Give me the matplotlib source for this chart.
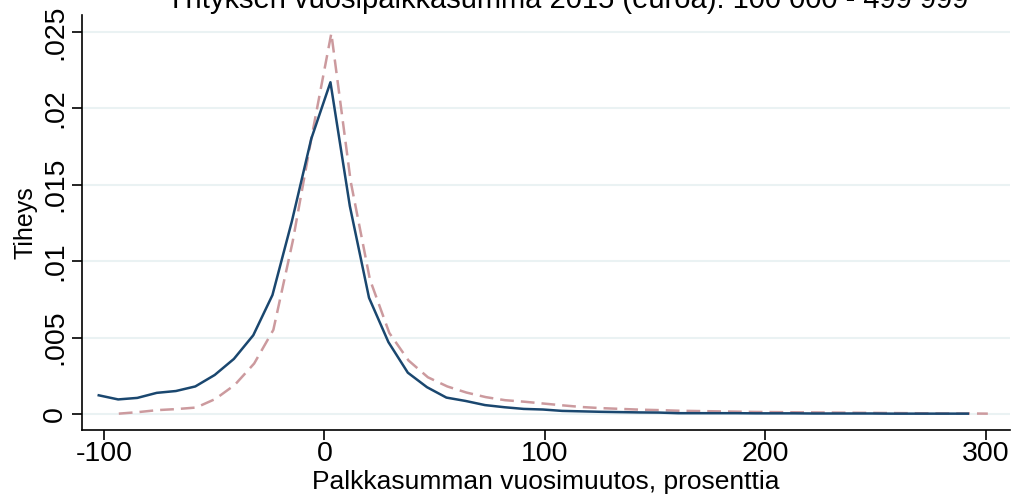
import matplotlib.pyplot as plt

plt.rcParams['font.family'] = ['Liberation Sans', 'DejaVu Sans']
plt.rcParams['axes.unicode_minus'] = False

title = 'Yrityksen vuosipalkkasumma 2015 (euroa): 100 000 - 499 999'

# solid navy curve
blue_x = [-102.4, -93.6, -84.9, -76.1, -67.4, -58.6, -49.8, -41.1, -32.3, -23.6,
          -14.8, -6.0, 2.7, 11.5, 20.2, 29.0, 37.8, 46.5, 55.3, 64.0,
          72.8, 81.6, 90.3, 99.1, 107.8, 116.6, 125.4, 134.1, 142.9, 151.6,
          160.4, 169.2, 177.9, 186.7, 195.4, 204.2, 213.0, 221.7, 230.5, 239.2,
          248.0, 256.8, 265.5, 274.3, 283.0, 291.8]
blue_y = [0.00122, 0.00095, 0.00105, 0.00138, 0.00150, 0.00180, 0.00255, 0.00360, 0.00515, 0.00778,
          0.0126, 0.0180, 0.0217, 0.0136, 0.0076, 0.0047, 0.0027, 0.00175, 0.00107, 0.00085,
          0.00058, 0.00044, 0.00033, 0.00029, 0.00020, 0.00017, 0.00014, 0.00012, 0.00010, 0.00009,
          0.00005, 0.00005, 0.00005, 0.00005, 0.00004, 0.00004, 0.00004, 0.00003, 0.00003, 0.00003,
          0.00003, 0.00002, 0.00002, 0.00002, 0.00002, 0.00002]

# dashed pink curve
pink_x = [-93.3, -84.5, -75.8, -67.0, -58.2, -49.5, -40.7, -31.9, -23.2, -14.4,
          -5.6, 3.1, 11.9, 20.6, 29.4, 38.1, 46.9, 55.7, 64.4, 73.2,
          81.9, 90.7, 99.4, 108.2, 117.0, 125.7, 134.5, 143.2, 152.0, 160.8,
          169.5, 178.3, 187.0, 195.8, 204.6, 213.3, 222.1, 230.8, 239.6, 248.4,
          257.1, 265.9, 274.6, 283.4, 292.2, 300.9]
pink_y = [0.00002, 0.00012, 0.00025, 0.00032, 0.00042, 0.00098, 0.0019, 0.0033, 0.0055, 0.0113,
          0.0183, 0.0249, 0.0152, 0.0088, 0.0053, 0.0035, 0.0024, 0.0018, 0.0014, 0.0011,
          0.0009, 0.0008, 0.00068, 0.00056, 0.00045, 0.00038, 0.00033, 0.00028, 0.00025, 0.00021,
          0.00019, 0.00017, 0.00015, 0.00013, 0.00012, 0.00011, 0.00010, 0.00009, 0.00008, 0.00007,
          0.00006, 0.00005, 0.00004, 0.00003, 0.00003, 0.00002]

xticks = [-100, 0, 100, 200, 300]
yticks = [0, 0.005, 0.01, 0.015, 0.02, 0.025]
ytick_labels = ['0', '.005', '.01', '.015', '.02', '.025']

fig = plt.figure(figsize=(10.11, 5), dpi=100)
ax = fig.add_axes([0.0811, 0.14, 0.918, 0.83])

ax.plot(pink_x, pink_y, color='#cc9a9e', lw=1.8, dashes=(5.5, 2.8), zorder=3)
ax.plot(blue_x, blue_y, color='#1a476f', lw=1.8, zorder=4)

ax.set_xlim(-110, 311)
ax.set_ylim(-0.00105, 0.0261)
ax.set_xticks(xticks)
ax.set_yticks(yticks)
ax.set_yticklabels(ytick_labels, rotation=90, va='center')
ax.grid(axis='y', color='#eaf2f3', lw=1.5)
ax.set_axisbelow(True)
for s in ['top', 'right']:
    ax.spines[s].set_visible(False)
for s in ['left', 'bottom']:
    ax.spines[s].set_linewidth(1.2)
ax.tick_params(axis='both', labelsize=20.5, length=7, width=1.2, direction='out')
ax.tick_params(axis='y', pad=3)
ax.tick_params(axis='x', pad=1)

ax.set_xlabel('Palkkasumman vuosimuutos, prosenttia', fontsize=19, labelpad=2)
ax.set_ylabel('Tiheys', fontsize=18, labelpad=3)

fig.text(0.561, 0.984, title, fontsize=21, ha='center', va='baseline')

fig.savefig('out.png', dpi=100)
